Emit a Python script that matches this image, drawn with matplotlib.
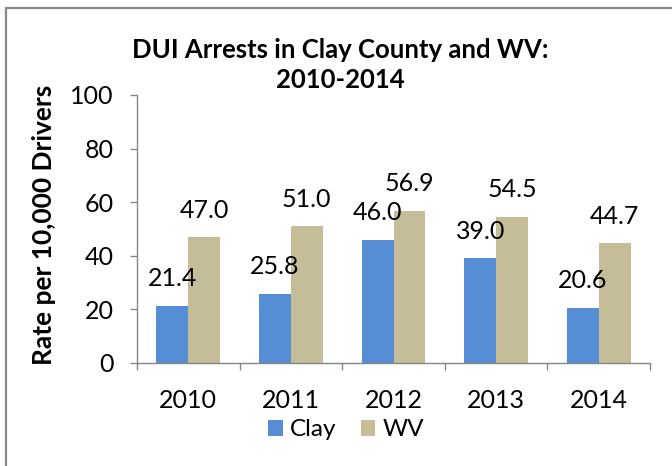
import matplotlib
matplotlib.use("Agg")
import matplotlib.pyplot as plt
from matplotlib.patches import Rectangle, Patch
import numpy as np

plt.rcParams['font.family'] = ['Lato', 'DejaVu Sans']

years = ["2010", "2011", "2012", "2013", "2014"]
clay = [21.4, 25.8, 46.0, 39.0, 20.6]
wv = [47.0, 51.0, 56.9, 54.5, 44.7]
series_names = ["Clay", "WV"]
title = "DUI Arrests in Clay County and WV:\n2010-2014"
ylabel = "Rate per 10,000 Drivers"
yticks = [0, 20, 40, 60, 80, 100]

c_clay = "#558ED5"
c_wv = "#C4BD97"
axis_gray = "#868686"

W, H = 672, 466
fig = plt.figure(figsize=(W / 100, H / 100), dpi=100)

# outer border
fig.patches.append(Rectangle((6 / W, -0.05), 1.2, 1.05 - 8 / H, transform=fig.transFigure,
                             fill=False, edgecolor="#888888", linewidth=1.6, zorder=0))

left, right = 137 / W, 650 / W
bottom, top = (H - 363) / H, (H - 95) / H
ax = fig.add_axes([left, bottom, right - left, top - bottom])

x = np.arange(len(years))
bw = 0.31
b1 = ax.bar(x - bw / 2, clay, bw, color=c_clay, zorder=2)
b2 = ax.bar(x + bw / 2, wv, bw, color=c_wv, zorder=2)

for bars, vals in ((b1, clay), (b2, wv)):
    for rect, v in zip(bars, vals):
        ax.annotate(f"{v:.1f}", (rect.get_x() + rect.get_width() / 2, v),
                    xytext=(0, 14), textcoords="offset points",
                    ha="center", va="baseline", fontsize=18, color="black")

ax.set_xlim(-0.5, len(years) - 0.5)
ax.set_ylim(0, 100)
ax.set_yticks(yticks)
ax.set_yticklabels([str(t) for t in yticks], fontsize=18)
ax.set_xticks(x)
ax.set_xticklabels(years, fontsize=18)
ax.set_xticks(np.arange(-0.5, len(years)), minor=True)

ax.tick_params(axis="x", which="major", length=0, pad=19)
ax.tick_params(axis="x", which="minor", length=5, color=axis_gray, width=1)
ax.tick_params(axis="y", which="major", length=5, color=axis_gray, width=1, pad=12)

for s in ("top", "right"):
    ax.spines[s].set_visible(False)
for s in ("left", "bottom"):
    ax.spines[s].set_color(axis_gray)
    ax.spines[s].set_linewidth(1)

fig.text(44 / W, 1 - 225 / H, ylabel, rotation=90, ha="center", va="center",
         fontsize=19, fontweight="bold")
fig.text(340 / W, 1 - 65 / H, title, ha="center", va="center", fontsize=18.5,
         fontweight="bold", linespacing=1.25)

handles = [Patch(facecolor=c_clay, edgecolor="none"), Patch(facecolor=c_wv, edgecolor="none")]
fig.legend(handles, series_names, loc="center", bbox_to_anchor=(346 / W, 1 - 430 / H),
           ncol=2, frameon=False, fontsize=17.5, handlelength=0.6, handleheight=0.6,
           handletextpad=0.3, columnspacing=1.0, borderpad=0)

fig.savefig("out.png", dpi=100)
